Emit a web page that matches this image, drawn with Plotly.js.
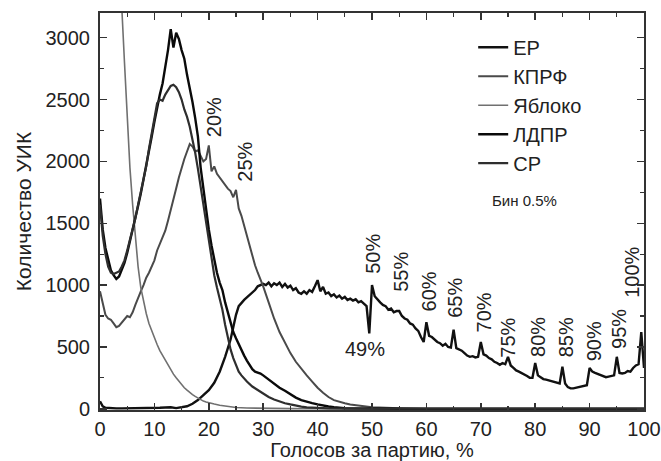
<!DOCTYPE html>
<html>
<head>
<meta charset="utf-8">
<script src="https://cdn.plot.ly/plotly-3.0.1.min.js"></script>
<style>html,body{margin:0;padding:0;background:#fff;}#chart{width:661px;height:461px;}</style>
</head>
<body>
<div id="chart"></div>
<script>
// Series names
const seriesNames = ['ЕР', 'КПРФ', 'Яблоко', 'ЛДПР', 'СР'];

// ЕР (United Russia) — % of votes vs number of polling stations, bin 0.5%
const erX = [0,0.5,1,2,3,4,5,6,7,8,9,10,11,12,13,14,15,16,17,18,19,20,21,22,23,24,24.5,25,25.5,26,26.5,27,27.5,28,28.5,29,29.5,
  30,30.5,31,31.5,32,32.5,33,33.5,34,34.5,35,35.5,36,36.5,37,37.5,38,38.5,39,39.5,40,40.5,41,41.5,42,42.5,43,43.5,44,44.5,45,45.5,46,46.5,47,47.5,48,48.5,49,49.5,
  50,50.5,51,51.5,52,52.5,53,53.5,54,54.5,55,55.5,56,56.5,57,57.5,58,58.5,59,59.5,
  60,60.5,61,61.5,62,62.5,63,63.5,64,64.5,65,65.5,66,66.5,67,67.5,68,68.5,69,69.5,
  70,70.5,71,71.5,72,72.5,73,73.5,74,74.5,75,75.5,76,76.5,77,77.5,78,78.5,79,79.5,
  80,80.5,81,81.5,82,82.5,83,83.5,84,84.5,85,85.5,86,86.5,87,87.5,88,88.5,89,89.5,
  90,90.5,91,91.5,92,92.5,93,93.5,94,94.5,95,95.5,96,96.5,97,97.5,98,98.5,99,99.5,100];
const erY = [60,20,8,4,3,3,3,3,4,4,5,6,8,10,12,5,10,20,40,70,110,150,210,300,420,560,660,760,830,860,880,900,920,940,960,990,1000,
  1010,1000,1020,990,1015,1000,1020,985,1010,980,995,960,975,940,930,950,930,960,945,990,1040,950,985,930,940,910,925,900,915,890,905,880,890,875,885,860,870,850,830,610,
  1000,910,880,860,840,830,800,810,780,790,790,750,730,720,690,680,650,630,580,540,
  700,590,580,560,540,530,510,525,500,495,640,490,480,470,450,430,420,425,415,420,
  540,440,430,410,400,380,370,355,370,360,420,350,330,310,300,290,275,265,250,250,
  370,270,255,240,235,230,225,215,210,205,340,205,175,165,165,170,175,175,180,190,
  330,300,290,280,270,260,255,260,265,270,420,290,285,290,305,300,330,350,360,620,330];

// КПРФ
const kprfX = [0,0.5,1,1.5,2,2.5,3,3.5,4,4.5,5,5.5,6,6.5,7,7.5,8,8.5,9,9.5,10,10.5,11,11.5,12,12.5,13,13.5,14,14.5,15,15.5,16,16.5,17,17.5,18,18.5,19,19.5,
  20,20.5,21,21.5,22,22.5,23,23.5,24,24.5,25,25.5,26,26.5,27,27.5,28,28.5,29,29.5,30,31,32,33,34,35,36,37,38,39,40,41,42,43,44,45,46,47,48,50,55,60,70,100];
const kprfY = [950,850,760,730,720,690,660,670,700,720,750,740,780,840,900,950,1000,1060,1100,1150,1200,1280,1330,1390,1440,1520,1600,1700,1780,1870,1950,2020,2080,2140,2120,2080,2090,2040,2000,2020,
  2130,1920,1960,1900,1870,1830,1810,1780,1760,1710,1770,1620,1560,1480,1390,1310,1240,1160,1100,1050,990,860,730,620,530,450,380,320,270,220,170,130,95,70,55,45,35,28,20,12,4,0,0,0];

// Яблоко
const yablX = [0,0.5,1,1.5,2,2.5,3,3.5,4,4.5,5,5.5,6,6.5,7,7.5,8,8.5,9,9.5,10,10.5,11,11.5,12,12.5,13,13.5,14,14.5,15,15.5,16,16.5,17,17.5,18,18.5,19,19.5,20,21,22,23,24,25,27,30,35,40,100];
const yablY = [12000,9000,7500,6500,5700,5000,4400,3800,3250,2800,2350,1950,1650,1400,1150,980,860,770,690,630,570,520,470,430,390,350,310,280,250,220,190,170,150,130,115,100,85,72,62,55,48,38,28,20,14,10,6,3,1,0,0];

// ЛДПР
const ldprX = [0,0.5,1,1.5,2,2.5,3,3.5,4,4.5,5,5.5,6,6.5,7,7.5,8,8.5,9,9.5,10,10.5,11,11.5,12,12.5,13,13.5,14,14.5,15,15.5,16,16.5,17,17.5,18,18.5,19,19.5,
  20,20.5,21,21.5,22,22.5,23,23.5,24,24.5,25,25.5,26,26.5,27,27.5,28,28.5,29,29.5,30,31,32,33,34,35,36,37,38,39,40,41,42,43,44,45,47,50,55,100];
const ldprY = [1700,1450,1300,1200,1120,1080,1050,1070,1120,1180,1260,1350,1440,1540,1640,1740,1850,1950,2080,2200,2320,2440,2540,2630,2760,2900,3070,2920,3040,2990,2900,2830,2700,2600,2480,2350,2200,1950,1780,1600,
  1450,1320,1200,1100,1020,960,860,780,700,620,570,520,470,430,390,350,320,300,295,285,270,235,200,170,145,115,90,70,55,45,35,25,18,12,8,5,3,1,0,0];

// СР
const srX = [0,0.5,1,1.5,2,2.5,3,3.5,4,4.5,5,5.5,6,6.5,7,7.5,8,8.5,9,9.5,10,10.5,11,11.5,12,12.5,13,13.5,14,14.5,15,15.5,16,16.5,17,17.5,18,18.5,19,19.5,
  20,20.5,21,21.5,22,22.5,23,23.5,24,24.5,25,25.5,26,27,28,29,30,31,32,33,34,35,36,37,38,40,42,45,50,100];
const srY = [1650,1400,1250,1150,1100,1090,1100,1110,1150,1200,1280,1360,1450,1540,1650,1750,1860,1960,2100,2220,2350,2470,2500,2490,2540,2580,2610,2620,2600,2560,2500,2420,2360,2280,2180,2070,1940,1800,1650,1500,
  1360,1220,1080,980,900,800,680,580,480,410,350,300,270,220,180,150,120,95,75,58,45,35,25,18,12,6,3,1,0,0];

// Spike labels
const spikeLabels = ['20%','25%','50%','55%','60%','65%','70%','75%','80%','85%','90%','95%','100%'];
const dipLabel = '49%';
const binNote = 'Бин 0.5%';

const FONT = 'Liberation Sans, Arial, sans-serif';
const TXT = '#222';

const traces = [
  {x: erX, y: erY, name: seriesNames[0], color: '#111', w: 2.4},
  {x: kprfX, y: kprfY, name: seriesNames[1], color: '#4a4a4a', w: 2},
  {x: yablX, y: yablY, name: seriesNames[2], color: '#707070', w: 1.6},
  {x: ldprX, y: ldprY, name: seriesNames[3], color: '#0a0a0a', w: 2.4},
  {x: srX, y: srY, name: seriesNames[4], color: '#2e2e2e', w: 2.2}
].map((s, i) => ({
  type: 'scatter', mode: 'lines', x: s.x, y: s.y, name: s.name,
  legendgroup: 'g' + i,
  line: {color: s.color, width: s.w}
}));

// label placement (data coords of text centres)
const spikePos = [[21.0,2360],[26.7,2000],[50.3,1250],[55.4,1110],[60.4,945],[65.2,895],[70.5,775],[75.0,575],[80.5,580],[85.6,575],[90.8,545],[95.4,645],[97.8,1100]];
const annotations = spikeLabels.map((t, i) => ({
  text: t, x: spikePos[i][0], y: spikePos[i][1], xref: 'x', yref: 'y',
  showarrow: false, textangle: -90, font: {family: FONT, size: 20, color: TXT}
}));
annotations.push({text: dipLabel, x: 48.8, y: 485, xref: 'x', yref: 'y', showarrow: false,
  font: {family: FONT, size: 20, color: TXT}});
annotations.push({text: binNote, x: 78.0, y: 1680, xref: 'x', yref: 'y', showarrow: false,
  font: {family: FONT, size: 15, color: TXT}});

const axisCommon = {
  showline: true, linecolor: '#333', linewidth: 2, mirror: 'allticks',
  ticks: 'inside', ticklen: 7, tickwidth: 1.5, tickcolor: '#333',
  showgrid: false, zeroline: false,
  tickfont: {family: FONT, size: 20, color: TXT}
};

const layout = {
  width: 661, height: 461,
  margin: {l: 100, r: 17, t: 13, b: 51},
  paper_bgcolor: '#fff', plot_bgcolor: '#fff',
  showlegend: true,
  legend: {x: 0.686, y: 0.963, xanchor: 'left', yanchor: 'top', bgcolor: 'rgba(0,0,0,0)',
    font: {family: FONT, size: 20, color: TXT}, tracegroupgap: 2, traceorder: 'normal'},
  xaxis: Object.assign({}, axisCommon, {
    range: [0, 100], tick0: 0, dtick: 10, ticklabelstandoff: 0,
    minor: {dtick: 5, ticks: 'inside', ticklen: 4, tickcolor: '#333', tickwidth: 1.2},
    title: {text: 'Голосов за партию, %', font: {family: FONT, size: 20, color: TXT}, standoff: 8}
  }),
  yaxis: Object.assign({}, axisCommon, {
    range: [-10, 3200], tick0: 0, dtick: 500, ticklabelstandoff: 4,
    minor: {dtick: 250, ticks: 'inside', ticklen: 4, tickcolor: '#333', tickwidth: 1.2},
    title: {text: 'Количество УИК', font: {family: FONT, size: 21, color: TXT}, standoff: 8}
  }),
  annotations: annotations
};

Plotly.newPlot('chart', traces, layout, {displayModeBar: false, staticPlot: true});
</script>
</body>
</html>
